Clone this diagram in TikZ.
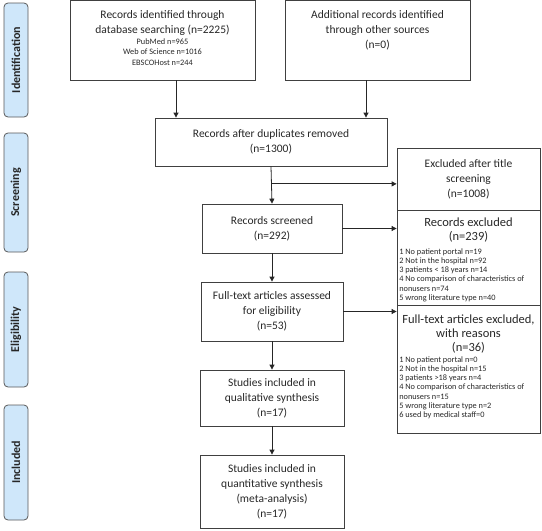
\documentclass[tikz,border=0pt]{standalone}
\usepackage{fontspec}
\setmainfont{Carlito}
\usetikzlibrary{arrows.meta,calc}
\definecolor{phaseblue}{RGB}{207,231,250}
\definecolor{txt}{RGB}{40,40,40}
\begin{document}
\begin{tikzpicture}[x=1pt,y=-1pt,
  box/.style={draw=black!75, line width=0.8pt, fill=white, inner sep=0pt},
  phase/.style={draw=black!65, fill=phaseblue, rounded corners=4pt, line width=0.8pt, inner sep=0pt, font=\fontsize{12}{14}\selectfont\bfseries, text=black!85},
  main/.style={align=center, inner sep=0pt, font=\fontsize{11.5}{15}\selectfont, text=txt},
  head/.style={align=center, inner sep=0pt, font=\fontsize{12.5}{13.8}\selectfont, text=txt},
  small/.style={align=center, inner sep=0pt, font=\fontsize{8.3}{10.3}\selectfont, text=txt},
  smalll/.style={align=left, inner sep=0pt, font=\fontsize{8.3}{9.3}\selectfont, text=txt},
  arr/.style={-{Triangle[length=5pt,width=5pt]}, line width=0.8pt, draw=black!85}]

\useasboundingbox (0,0) rectangle (542,531);

% phase bars
\node[phase, rotate=90, minimum width=114pt, minimum height=24pt] (pid) at (16,60) {Identification};
\node[phase, rotate=90, minimum width=119pt, minimum height=24pt] (psc) at (16,192.5) {Screening};
\node[phase, rotate=90, minimum width=115pt, minimum height=24pt] (pel) at (16,329.5) {Eligibility};
\node[phase, rotate=90, minimum width=115pt, minimum height=24pt] (pin) at (16,462.5) {Included};

% boxes
\node[box, minimum width=185pt, minimum height=79.5pt] (A) at (162.5,40.25) {};
\node[box, minimum width=185pt, minimum height=79.5pt] (B) at (377.5,40.25) {};
\node[box, minimum width=232pt, minimum height=48pt] (D) at (271,142) {};
\node[box, minimum width=143pt, minimum height=62pt] (R1) at (468.5,179) {};
\node[box, minimum width=143pt, minimum height=95pt] (R2) at (468.5,257.5) {};
\node[box, minimum width=143pt, minimum height=128pt] (R3) at (468.5,369) {};
\node[box, minimum width=140pt, minimum height=49pt] (S) at (272,228.5) {};
\node[box, minimum width=142pt, minimum height=59pt] (F) at (272,311.5) {};
\node[box, minimum width=144pt, minimum height=56pt] (Q) at (272,398) {};
\node[box, minimum width=144pt, minimum height=73pt] (M) at (272,491.5) {};

% texts
\node[main, anchor=north] (tA) at ($(A.north)+(0,10.3)$) {Records identified through\\database searching (n=2225)};
\node[small, anchor=north] (tA2) at ($(A.north)+(0,38.5)$) {PubMed n=965\\Web of Science n=1016\\EBSCOHost n=244};
\node[main, anchor=north] (tB) at ($(B.north)+(0,10.3)$) {Additional records identified\\through other sources\\(n=0)};
\node[main] (tD) at (D) {Records after duplicates removed\\(n=1300)};
\node[main] (tR1) at (R1) {Excluded after title\\screening\\(n=1008)};
\node[head, anchor=north] (tR2) at ($(R2.north)+(0,8.5)$) {Records excluded\\(n=239)};
\node[smalll, anchor=north west] (tR2s) at ($(R2.north west)+(2.5,38.5)$) {1 No patient portal n=19\\2 Not in the hospital n=92\\3 patients < 18 years n=14\\4 No comparison of characteristics of\\nonusers n=74\\5 wrong literature type n=40};
\node[head, anchor=north] (tR3) at ($(R3.north)+(0,10)$) {Full-text articles excluded,\\with reasons\\(n=36)};
\node[smalll, anchor=north west] (tR3s) at ($(R3.north west)+(2.5,51.5)$) {1 No patient portal n=0\\2 Not in the hospital n=15\\3 patients >18 years n=4\\4 No comparison of characteristics of\\nonusers n=15\\5 wrong literature type n=2\\6 used by medical staff=0};
\node[main] (tS) at (S) {Records screened\\(n=292)};
\node[main] (tF) at (F) {Full-text articles assessed\\for eligibility\\(n=53)};
\node[main] (tQ) at (Q) {Studies included in\\qualitative synthesis\\(n=17)};
\node[main] (tM) at (M) {Studies included in\\quantitative synthesis\\(meta-analysis)\\(n=17)};

% connectors
\coordinate (xa) at (176,0);
\coordinate (xb) at (366,0);
\draw[arr] (A.south -| xa) -- (D.north -| xa);
\draw[arr] (B.south -| xb) -- (D.north -| xb);
\draw[arr] (D.south) -- (S.north);
\coordinate (br) at ($(D.south)!0.47!(S.north)$);
\draw[arr] (br) -- (br -| R1.west);
\draw[arr] (S.east) -- (S.east -| R2.west);
\draw[arr] (S.south) -- (F.north);
\draw[arr] (F.east) -- (F.east -| R3.west);
\draw[arr] (F.south) -- (Q.north);
\draw[arr] (Q.south) -- (M.north);
\end{tikzpicture}
\end{document}
